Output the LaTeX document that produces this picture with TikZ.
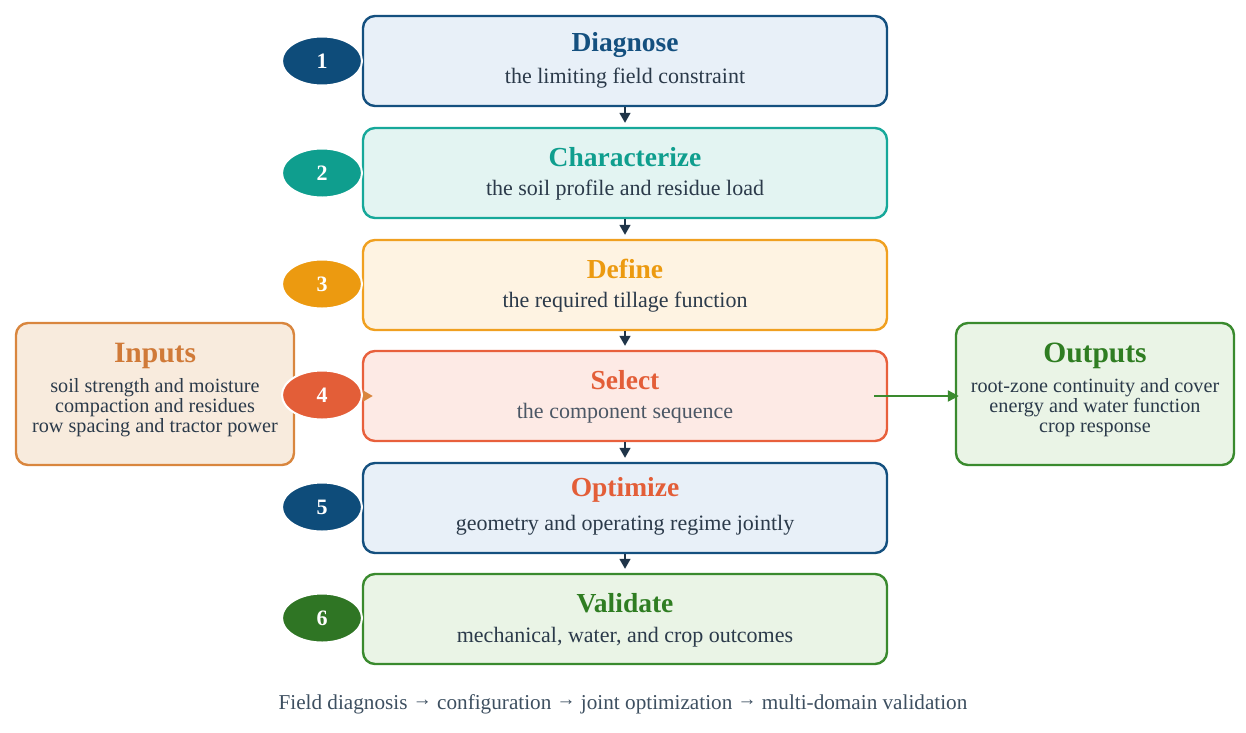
\documentclass[tikz,border=0pt]{standalone}
\usepackage{fontspec}
\setmainfont{Liberation Serif}
\usetikzlibrary{arrows.meta,shapes.geometric}
\definecolor{txt}{HTML}{2B3A4A}
\definecolor{navy}{HTML}{1F3448}
\definecolor{bluD}{HTML}{14507F}
\definecolor{bluF}{HTML}{E8F0F8}
\definecolor{bluC}{HTML}{0E4C7A}
\definecolor{tealD}{HTML}{17A89A}
\definecolor{tealF}{HTML}{E3F4F2}
\definecolor{tealC}{HTML}{0F9E8E}
\definecolor{ambD}{HTML}{F0A020}
\definecolor{ambF}{HTML}{FEF3E2}
\definecolor{ambC}{HTML}{EC9A10}
\definecolor{redD}{HTML}{E8603C}
\definecolor{redF}{HTML}{FDEAE5}
\definecolor{redC}{HTML}{E35E38}
\definecolor{grnD}{HTML}{3A8A2E}
\definecolor{grnF}{HTML}{EAF4E6}
\definecolor{grnC}{HTML}{2F7524}
\definecolor{grnT}{HTML}{2F7D22}
\definecolor{orgD}{HTML}{D9863E}
\definecolor{orgF}{HTML}{F8EBDD}
\definecolor{orgT}{HTML}{D07A38}
\definecolor{capc}{HTML}{3D4F60}
\newcommand{\smallarr}{{\fontsize{19}{19}\selectfont\raisebox{3.5pt}{→}}}
\begin{document}
\begin{tikzpicture}[x=1pt,y=-1pt,
  stepbox/.style={draw, rounded corners=12pt, line width=2.4pt, minimum width=524pt, minimum height=90pt, inner sep=0pt},
  sidebox/.style={draw, rounded corners=12pt, line width=2.4pt, minimum width=278pt, minimum height=142pt, inner sep=0pt},
  numdisc/.style={ellipse, draw=white, line width=2pt, minimum width=80pt, minimum height=49pt, text=white, font=\bfseries\fontsize{22}{24}\selectfont, inner sep=0pt},
  ttl/.style={font=\bfseries\fontsize{27.5}{30}\selectfont, inner sep=0pt},
  sidettl/.style={font=\bfseries\fontsize{29.5}{32}\selectfont, inner sep=0pt},
  subt/.style={font=\fontsize{22}{24}\selectfont, text=txt, inner sep=0pt},
  sidetxt/.style={font=\fontsize{20.2}{20}\selectfont, text=txt, align=center, inner sep=0pt},
  flow/.style={-{Triangle[length=10pt,width=11pt]}, line width=1.5pt, draw=navy, shorten >=4pt}
]
\useasboundingbox (0,0) rectangle (1246,732);
% main step boxes
\node[stepbox, draw=bluD, fill=bluF] (b1) at (625,61) {};
\node[stepbox, draw=tealD, fill=tealF] (b2) at (625,173) {};
\node[stepbox, draw=ambD, fill=ambF] (b3) at (625,285) {};
\node[stepbox, draw=redD, fill=redF] (b4) at (625,396) {};
\node[stepbox, draw=bluD, fill=bluF] (b5) at (625,508) {};
\node[stepbox, draw=grnD, fill=grnF] (b6) at (625,619) {};
% titles and subtitles
\node[ttl, text=bluD] (t1) at (625,45) {Diagnose};
\node[subt] (s1) at (625,78) {the limiting field constraint};
\node[ttl, text=tealC] (t2) at (625,157) {Characterize};
\node[subt] (s2) at (625,190) {the soil profile and residue load};
\node[ttl, text=ambC] (t3) at (625,269) {Define};
\node[subt] (s3) at (625,302) {the required tillage function};
\node[ttl, text=redC] (t4) at (625,380) {Select};
\node[subt, text=txt!85] (s4) at (625,413) {the component sequence};
\node[ttl, text=redC] (t5) at (625,490) {Optimize};
\node[subt] (s5) at (625,525) {geometry and operating regime jointly};
\node[ttl, text=grnT] (t6) at (625,603) {Validate};
\node[subt] (s6) at (625,637) {mechanical, water, and crop outcomes};
% side boxes
\node[sidebox, draw=orgD, fill=orgF] (inputs) at (155,394) {};
\node[sidettl, text=orgT] (it) at (155,356) {Inputs};
\node[sidetxt, anchor=north] (il) at (155,378) {soil strength and moisture\\compaction and residues\\row spacing and tractor power};
\node[sidebox, draw=grnD, fill=grnF] (outputs) at (1095,394) {};
\node[sidettl, text=grnT] (ot) at (1095,356) {Outputs};
\node[sidetxt, anchor=north] (ol) at (1095,378) {root-zone continuity and cover\\energy and water function\\crop response};
% connectors
\draw[flow] (b1.south) -- (b2.north);
\draw[flow] (b2.south) -- (b3.north);
\draw[flow] (b3.south) -- (b4.north);
\draw[flow] (b4.south) -- (b5.north);
\draw[flow] (b5.south) -- (b6.north);
\draw[-{Triangle[length=10pt,width=11pt]}, line width=2pt, draw=orgD, shorten >=-11pt] (inputs.east |- b4.west) -- (b4.west);
\draw[-{Triangle[length=11pt,width=11pt]}, line width=2.2pt, draw=grnD, shorten >=-4pt] ([xshift=-14pt]b4.east) -- (b4.east -| outputs.west);
% number discs
\node[numdisc, fill=bluC] (n1) at (322,61) {1};
\node[numdisc, fill=tealC] (n2) at (322,173) {2};
\node[numdisc, fill=ambC] (n3) at (322,284) {3};
\node[numdisc, fill=redC] (n4) at (322,395) {4};
\node[numdisc, fill=bluC] (n5) at (322,507) {5};
\node[numdisc, fill=grnC] (n6) at (322,618) {6};
% caption
\node[font=\fontsize{21.2}{24}\selectfont, text=capc, inner sep=0pt] (cap) at (623,704) {Field diagnosis \smallarr{} configuration \smallarr{} joint optimization \smallarr{} multi-domain validation};
\end{tikzpicture}
\end{document}
